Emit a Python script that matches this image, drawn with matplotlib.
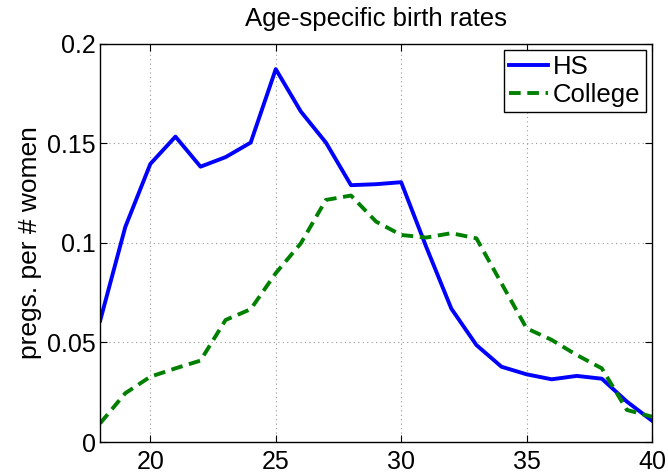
import numpy as np
import matplotlib
matplotlib.use("Agg")
import matplotlib.pyplot as plt

plt.rcParams["font.family"] = ["Liberation Sans", "DejaVu Sans"]

ages = list(range(18, 41))
hs = [0.061, 0.108, 0.1397, 0.1534, 0.1383, 0.1431, 0.1504, 0.1873, 0.166,
      0.1504, 0.129, 0.1295, 0.1305, 0.098, 0.067, 0.0487, 0.0378, 0.034,
      0.0315, 0.0332, 0.0318, 0.0203, 0.0107]
college = [0.0094, 0.0245, 0.0328, 0.037, 0.0409, 0.0613, 0.0667, 0.0848,
           0.0998, 0.1216, 0.1238, 0.1107, 0.104, 0.1027, 0.1049, 0.1023,
           0.0797, 0.0571, 0.0513, 0.0437, 0.037, 0.0161, 0.0127]
xticks = [20, 25, 30, 35, 40]
yticks = [0, 0.05, 0.1, 0.15, 0.2]
yticklabels = ["0", "0.05", "0.1", "0.15", "0.2"]

fig = plt.figure(figsize=(6.68, 4.74), dpi=100)
ax = fig.add_axes([0.150, 0.0675, 0.826, 0.840])

ax.plot(ages, hs, color="#0000ff", lw=2.8, label="HS")
ax.plot(ages, college, color="#008000", lw=2.8, ls=(0, (3, 1.7)), label="College")

ax.set_xlim(18, 40)
ax.set_ylim(0, 0.2)
ax.set_xticks(xticks)
ax.set_yticks(yticks)
ax.set_yticklabels(yticklabels)
ax.tick_params(direction="in", top=True, right=True, labelsize=18, length=5, width=0.8)
ax.tick_params(axis="y", pad=3)
ax.tick_params(axis="x", pad=6)
ax.grid(True, ls=(0, (1, 3)), color="#999999", lw=0.8)
for s in ax.spines.values():
    s.set_linewidth(1.0)

ax.set_ylabel("pregs. per # women", fontsize=19, labelpad=4)
ax.set_title("Age-specific birth rates", fontsize=18.5, pad=13)

leg = ax.legend(loc="upper right", fontsize=18.5, fancybox=False, framealpha=1,
                edgecolor="black", borderaxespad=0.25, handlelength=1.5,
                handletextpad=0.2, borderpad=0.2, labelspacing=0.15)
leg.get_frame().set_linewidth(1.0)

plt.savefig("out.png", dpi=100)
